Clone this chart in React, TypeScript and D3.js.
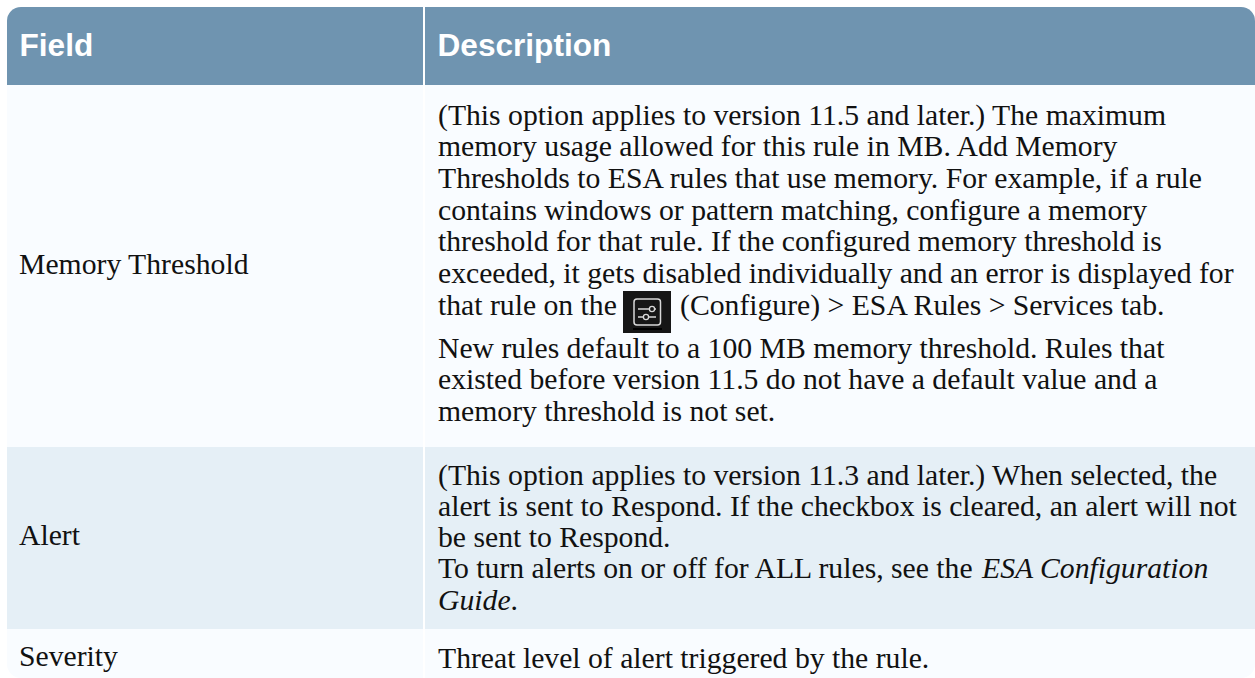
import React, { useEffect, useRef } from 'react';
import * as d3 from 'd3';

const columns = ['Field', 'Description'];
const fields = ['Memory Threshold', 'Alert', 'Severity'];

const memoryLines = [
  '(This option applies to version 11.5 and later.) The maximum',
  'memory usage allowed for this rule in MB. Add Memory',
  'Thresholds to ESA rules that use memory. For example, if a rule',
  'contains windows or pattern matching, configure a memory',
  'threshold for that rule. If the configured memory threshold is',
  'exceeded, it gets disabled individually and an error is displayed for',
];
const memoryIconLine = ['that rule on the', '(Configure) > ESA Rules > Services tab.'];
const memoryNote = [
  'New rules default to a 100 MB memory threshold. Rules that',
  'existed before version 11.5 do not have a default value and a',
  'memory threshold is not set.',
];
const alertLines = [
  '(This option applies to version 11.3 and later.) When selected, the',
  'alert is sent to Respond. If the checkbox is cleared, an alert will not',
  'be sent to Respond.',
];
const alertGuide = ['To turn alerts on or off for ALL rules, see the ', 'ESA Configuration', 'Guide', '.'];
const severityLines = ['Threat level of alert triggered by the rule.'];

const rowEdges = [7, 85, 447, 629, 690];
const rowColors = ['#6f94b0', '#f9fcff', '#e5eff6', '#f9fcff'];
const fieldBaselines = [274, 545, 666];

const App: React.FC = () => {
  const ref = useRef<SVGSVGElement>(null);

  useEffect(() => {
    const svg = d3.select(ref.current);
    svg.selectAll('*').remove();

    const x = d3.scaleLinear().domain([0, 1]).range([7, 1255]);
    const colSplit = 423;
    const leftPad = 19;
    const rightCol = 438;
    const serif = '"Liberation Serif", "Times New Roman", serif';
    const bodySize = 29.7;

    svg.append('clipPath').attr('id', 'tableClip')
      .append('rect')
      .attr('x', x(0)).attr('y', rowEdges[0])
      .attr('width', x(1) - x(0)).attr('height', 671)
      .attr('rx', 14);

    const table = svg.append('g').attr('clip-path', 'url(#tableClip)');

    table.selectAll('rect.row')
      .data(rowColors)
      .enter()
      .append('rect')
      .attr('class', 'row')
      .attr('x', x(0))
      .attr('y', (_, i) => rowEdges[i])
      .attr('width', x(1) - x(0))
      .attr('height', (_, i) => rowEdges[i + 1] - rowEdges[i])
      .attr('fill', d => d);

    // white column gap
    table.append('rect')
      .attr('x', colSplit).attr('y', rowEdges[0])
      .attr('width', 2).attr('height', 671)
      .attr('fill', '#ffffff');

    svg.selectAll('text.head')
      .data(columns)
      .enter()
      .append('text')
      .attr('class', 'head')
      .attr('x', (_, i) => (i === 0 ? 19.5 : 437.5))
      .attr('y', 56)
      .attr('fill', '#ffffff')
      .attr('font-family', '"Liberation Sans", Arial, sans-serif')
      .attr('font-weight', 700)
      .attr('font-size', 31.6)
      .text(d => d);

    svg.selectAll('text.field')
      .data(fields)
      .enter()
      .append('text')
      .attr('class', 'field')
      .attr('x', leftPad)
      .attr('y', (_, i) => fieldBaselines[i])
      .attr('fill', '#111111')
      .attr('font-family', serif)
      .attr('font-size', bodySize)
      .text(d => d);

    const drawLines = (lines: string[], baselines: number[]) => {
      lines.forEach((line, i) => {
        svg.append('text')
          .attr('x', rightCol)
          .attr('y', baselines[i])
          .attr('fill', '#111111')
          .attr('font-family', serif)
          .attr('font-size', bodySize)
          .text(line);
      });
    };

    drawLines(memoryLines, [125, 156, 188, 220, 251, 283]);
    drawLines(memoryNote, [358, 389, 421]);
    drawLines(alertLines, [485, 516, 547]);
    drawLines(severityLines, [668]);

    // line with the configure icon in it
    drawLines([memoryIconLine[0]], [315]);
    svg.append('text')
      .attr('x', 680).attr('y', 315)
      .attr('fill', '#111111')
      .attr('font-family', serif)
      .attr('font-size', bodySize)
      .text(memoryIconLine[1]);

    const icon = svg.append('g').attr('transform', 'translate(623,291)');
    icon.append('rect').attr('width', 48).attr('height', 42).attr('fill', '#161616');
    icon.append('rect').attr('x', 11).attr('y', 8).attr('width', 26.5).attr('height', 26).attr('rx', 3)
      .attr('fill', 'none').attr('stroke', '#d8d8d8').attr('stroke-width', 1.5);
    icon.append('path').attr('d', 'M15 18H26M32 18H33M15 26H20M26 26H33')
      .attr('fill', 'none').attr('stroke', '#d8d8d8').attr('stroke-width', 1.3);
    icon.append('circle').attr('cx', 29).attr('cy', 18).attr('r', 2.6)
      .attr('fill', 'none').attr('stroke', '#d8d8d8').attr('stroke-width', 1.3);
    icon.append('circle').attr('cx', 23).attr('cy', 26).attr('r', 2.6)
      .attr('fill', 'none').attr('stroke', '#d8d8d8').attr('stroke-width', 1.3);
    icon.append('rect').attr('x', 10).attr('y', 37).attr('width', 29).attr('height', 2).attr('fill', '#000');

    // guide reference, italic part
    const guide = svg.append('text')
      .attr('x', rightCol).attr('y', 578)
      .attr('fill', '#111111')
      .attr('font-family', serif)
      .attr('font-size', bodySize);
    guide.append('tspan').text(alertGuide[0]);
    guide.append('tspan').attr('font-style', 'italic').attr('dx', 2).text(alertGuide[1]);
    const guide2 = svg.append('text')
      .attr('x', rightCol).attr('y', 610)
      .attr('fill', '#111111')
      .attr('font-family', serif)
      .attr('font-size', bodySize);
    guide2.append('tspan').attr('font-style', 'italic').text(alertGuide[2]);
    guide2.append('tspan').text(alertGuide[3]);
  }, []);

  return (
    <svg
      ref={ref}
      width={1255}
      height={678}
      style={{ position: 'fixed', left: 0, top: 0, background: '#ffffff' }}
    />
  );
};

export default App;
